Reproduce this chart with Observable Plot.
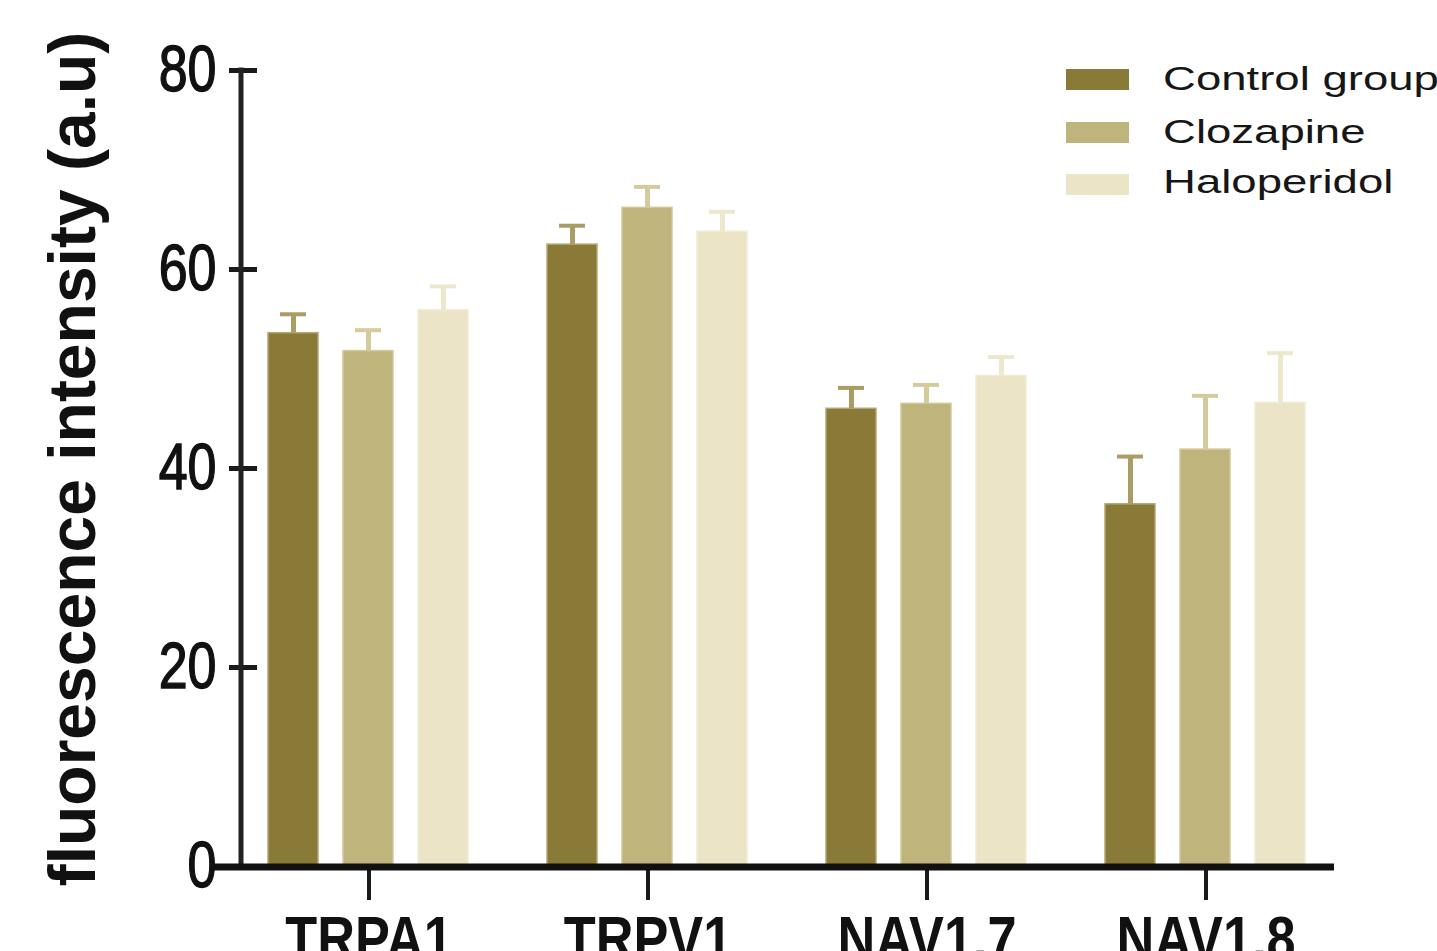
<!DOCTYPE html>
<html>
<head>
<meta charset="utf-8">
<script src="https://cdn.jsdelivr.net/npm/d3@7"></script>
<script src="https://cdn.jsdelivr.net/npm/@observablehq/plot@0.6"></script>
<style>
  body { margin: 0; background: #fff; overflow: hidden; }
  #wrap { position: relative; width: 1437px; height: 951px; overflow: hidden; }
  #wrap svg { position: absolute; left: 0; top: 0; }
  .ylabel {
    position: absolute; left: 72px; top: 459px;
    transform: translate(-50%, -50%) rotate(-90deg);
    white-space: nowrap; font: bold 66px "Liberation Sans", Arial, sans-serif;
    line-height: 1; color: #111;
  }
  .swatch { position: absolute; left: 1066px; width: 63px; height: 21px; }
  .ltext {
    position: absolute; left: 1163px; white-space: nowrap;
    font: 33px/33px "Liberation Sans", Arial, sans-serif; color: #161616;
    transform: scaleX(1.38); transform-origin: 0 0;
  }
</style>
</head>
<body>
<div id="wrap"></div>
<script>
// Channel targets on the x axis, treatment groups within each target
const targets = ["TRPA1", "TRPV1", "NAV1.7", "NAV1.8"];
const groups = ["Control group", "Clozapine", "Haloperidol"];

// Mean fluorescence intensity (a.u) per target, and SEM
const controlMean = [53.6, 62.5, 46.0, 36.4];
const controlSem = [1.9, 1.9, 2.1, 4.8];
const clozapineMean = [51.8, 66.2, 46.5, 41.9];
const clozapineSem = [2.1, 2.1, 1.9, 5.4];
const haloperidolMean = [55.9, 63.8, 49.3, 46.6];
const haloperidolSem = [2.4, 2.0, 1.9, 5.0];

const yTicks = [0, 20, 40, 60, 80];

// Colours: bar fill, bar edge, error bar
const fills = ["#8a7a37", "#bfb47b", "#ebe4c7"];
const edges = ["#b3a671", "#d2c99a", "#f1ecd6"];
const errColors = ["#aa9c64", "#d4cb9d", "#ede7cd"];

const means = [controlMean, clozapineMean, haloperidolMean];
const sems = [controlSem, clozapineSem, haloperidolSem];

const rows = [];
groups.forEach((g, j) => {
  targets.forEach((t, i) => {
    rows.push({target: t, group: g, gi: j, mean: means[j][i], sem: sems[j][i]});
  });
});

const width = 1437, height = 951;
const marginLeft = 241, marginRight = 103, marginTop = 70, marginBottom = 85;

const groupMarks = groups.flatMap((g, j) => {
  const data = rows.filter(d => d.gi === j);
  return [
    Plot.barY(data, {fx: "target", x: "group", y: "mean", fill: fills[j], stroke: edges[j], strokeWidth: 1.5}),
    Plot.ruleX(data, {fx: "target", x: "group", y1: "mean", y2: d => d.mean + d.sem, stroke: errColors[j], strokeWidth: 5}),
    Plot.tickY(data, {fx: "target", x: "group", y: d => d.mean + d.sem, stroke: errColors[j], strokeWidth: 4, insetLeft: 12, insetRight: 12})
  ];
});

const plot = Plot.plot({
  width, height, marginLeft, marginRight, marginTop, marginBottom,
  style: {fontFamily: '"Liberation Sans", Arial, sans-serif', color: "#111", background: "transparent"},
  fx: {domain: targets, paddingInner: 0.2, paddingOuter: 0.055, axis: null, label: null},
  x: {domain: groups, paddingInner: 0.33, paddingOuter: 0.136, axis: null, label: null},
  y: {domain: [0, 80], axis: null, label: null},
  marks: [
    ...groupMarks,
    Plot.axisY({ticks: yTicks, tickSize: 28, tickPadding: 13, strokeWidth: 5, fontSize: 65, label: null, stroke: "#1a1a1a"}),
    Plot.axisFx({anchor: "bottom", tickSize: 34, tickPadding: 15, strokeWidth: 4, fontSize: 63, fontWeight: "bold", label: null, stroke: "#1a1a1a"})
  ]
});

const svg = d3.select(plot);

// Narrow the axis lettering
function narrow(sel, k) {
  sel.each(function() {
    const t = this.getAttribute("transform") || "";
    this.setAttribute("transform", t + ` scale(${k},1)`);
  });
}
narrow(svg.selectAll('g[aria-label="y-axis tick label"] text'), 0.8);
narrow(svg.selectAll('g[aria-label="fx-axis tick label"] text'), 0.83);
// Slightly heavier tick numerals
svg.selectAll('g[aria-label="y-axis tick label"] text')
  .attr("stroke", "#111").attr("stroke-width", 1.4);

// Axis lines
const y = plot.scale("y");
svg.append("line")
  .attr("x1", marginLeft).attr("x2", marginLeft)
  .attr("y1", y.apply(80)).attr("y2", y.apply(0))
  .attr("stroke", "#222").attr("stroke-width", 5).attr("stroke-linecap", "square");
svg.append("line")
  .attr("x1", marginLeft - 28).attr("x2", width - marginRight)
  .attr("y1", y.apply(0) + 1).attr("y2", y.apply(0) + 1)
  .attr("stroke", "#111").attr("stroke-width", 7);

const wrap = document.getElementById("wrap");
wrap.appendChild(plot);

// Y axis title
const yl = document.createElement("div");
yl.className = "ylabel";
yl.textContent = "fluorescence intensity (a.u)";
wrap.appendChild(yl);

// Legend
const swTops = [69, 122, 174];
const txTops = [62, 115, 165];
groups.forEach((g, j) => {
  const sw = document.createElement("div");
  sw.className = "swatch";
  sw.style.top = swTops[j] + "px";
  sw.style.background = fills[j];
  wrap.appendChild(sw);
  const tx = document.createElement("div");
  tx.className = "ltext";
  tx.style.top = txTops[j] + "px";
  tx.textContent = g;
  wrap.appendChild(tx);
});
</script>
</body>
</html>
